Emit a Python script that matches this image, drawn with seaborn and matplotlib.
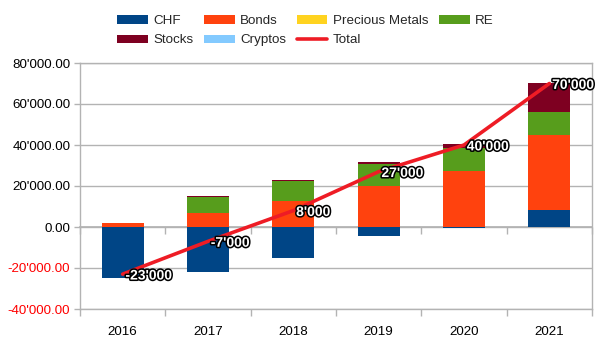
import numpy as np
import pandas as pd
import matplotlib
matplotlib.use("Agg")
import matplotlib.pyplot as plt
import matplotlib.patheffects as pe
from matplotlib.patches import Patch
from matplotlib.lines import Line2D
from matplotlib.ticker import FuncFormatter, FixedLocator
import seaborn as sns

years = ["2016", "2017", "2018", "2019", "2020", "2021"]
chf = [-25000, -22000, -15000, -4500, -300, 8500]
bonds = [2000, 7000, 12500, 20000, 27500, 36300]
precious = [0, 0, 0, 0, 0, 0]
re_vals = [0, 7500, 9800, 10500, 10800, 11300]
stocks = [0, 500, 700, 1000, 2000, 13900]
cryptos = [0, 0, 0, 0, 0, 0]
total = [-23000, -7000, 8000, 27000, 40000, 70000]
total_labels = ["-23'000", "-7'000", "8'000", "27'000", "40'000", "70'000"]

series = [
    ("CHF", chf, "#004586"),
    ("Bonds", bonds, "#ff420e"),
    ("Precious Metals", precious, "#ffd320"),
    ("RE", re_vals, "#579d1c"),
    ("Stocks", stocks, "#7e0021"),
    ("Cryptos", cryptos, "#83caff"),
]
line_color = "#ee1c25"
grid_color = "#b3b3b3"

sns.set_theme(style="white")
plt.rcParams["font.family"] = ["Liberation Sans", "DejaVu Sans"]
FS = 9.6

fig = plt.figure(figsize=(6.05, 3.4), dpi=100)
ax = fig.add_axes([80 / 605, 31 / 340, 512 / 605, 246 / 340])

pos_base = np.zeros(len(years))
neg_base = np.zeros(len(years))
for name, vals, col in series:
    v = np.array(vals, dtype=float)
    bottom = np.where(v >= 0, pos_base, neg_base)
    df = pd.DataFrame({"year": years, "value": v})
    sns.barplot(data=df, x="year", y="value", order=years, color=col,
                bottom=bottom, width=0.49, ax=ax, errorbar=None,
                saturation=1, linewidth=0, zorder=2)
    pos_base = pos_base + np.where(v >= 0, v, 0)
    neg_base = neg_base + np.where(v < 0, v, 0)

tdf = pd.DataFrame({"year": years, "total": total})
sns.pointplot(data=tdf, x="year", y="total", order=years, color=line_color,
              marker="", linewidth=2.6, ax=ax, errorbar=None, zorder=4)

for i, (t, lab) in enumerate(zip(total, total_labels)):
    ax.annotate(lab, (i, t), xytext=(2, -1), textcoords="offset points",
                ha="left", va="center", fontsize=10, fontweight="bold",
                color="white", zorder=6,
                path_effects=[pe.withStroke(linewidth=2.2, foreground="black")])

ax.set_xlim(-0.5, len(years) - 0.5)
ax.set_ylim(-40000, 80000)
ax.set_yticks(np.arange(-40000, 80001, 20000))
ax.yaxis.set_major_formatter(FuncFormatter(lambda v, p: f"{v:,.2f}".replace(",", "'")))
ax.set_xlabel("")
ax.set_ylabel("")
ax.grid(axis="y", color=grid_color, linewidth=1, zorder=0)
ax.grid(axis="x", visible=False)
ax.set_axisbelow(True)
for s in ax.spines.values():
    s.set_color(grid_color)
    s.set_linewidth(1)
    s.set_visible(True)

ax.xaxis.set_minor_locator(FixedLocator(np.arange(-0.5, len(years), 1.0)))
ax.tick_params(axis="x", which="major", length=0, pad=12, labelsize=FS, colors="black")
ax.tick_params(axis="x", which="minor", length=5, color=grid_color, width=1, direction="out", bottom=True)
ax.tick_params(axis="y", which="major", length=4, color=grid_color, width=1, direction="out",
               labelsize=FS, pad=3, left=True)

fig.canvas.draw()
for lbl in ax.get_yticklabels():
    txt = lbl.get_text()
    lbl.set_color("#ff0000" if txt.startswith("-") or txt.startswith("\u2212") else "black")

# axis line at zero with category boundary ticks
sec = ax.secondary_xaxis(40000 / 120000)
sec.set_xticks([])
sec.xaxis.set_minor_locator(FixedLocator(np.arange(-0.5, len(years), 1.0)))
sec.tick_params(axis="x", which="minor", length=5, color=grid_color, width=1, direction="out")
sec.tick_params(axis="x", which="major", length=0, labelbottom=False)
for s in sec.spines.values():
    s.set_color(grid_color)

handles = [Patch(facecolor=c, edgecolor="none", label=n) for n, _, c in series]
total_handle = Line2D([0], [0], color=line_color, linewidth=2.6, label="Total")
# column-major fill -> rows: CHF Bonds PM RE / Stocks Cryptos Total
ordered = [handles[0], handles[4], handles[1], handles[5], handles[2], total_handle, handles[3]]
fig.legend(handles=ordered, loc="upper center",
           bbox_to_anchor=(0.505, 0.985), ncol=4, frameon=False, fontsize=FS,
           handlelength=2.3, handleheight=0.6, handletextpad=0.4,
           columnspacing=0.8, labelspacing=0.55, borderaxespad=0.35)

fig.savefig("out.png", dpi=100)
